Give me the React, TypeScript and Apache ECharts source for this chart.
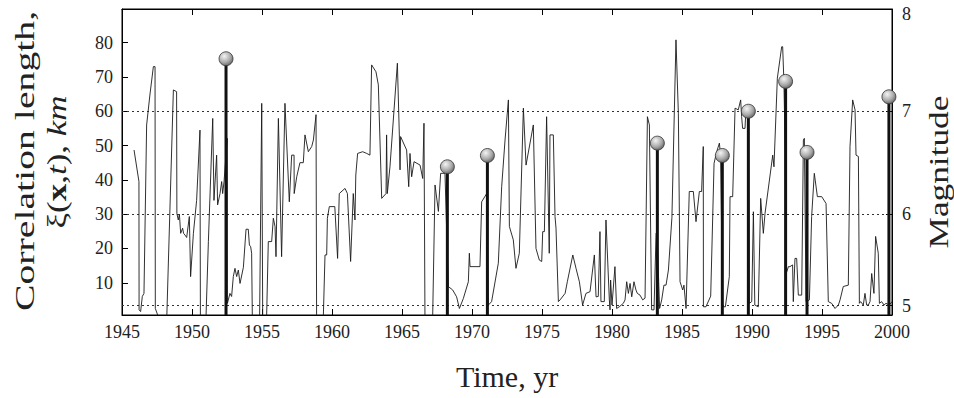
import React, { useEffect, useRef } from "react";
import * as echarts from "echarts";

// Correlation length time series (year, km)
const years: number[] = [
  1945.86, 1946.21, 1946.22, 1946.33, 1946.45, 1946.57, 1946.76, 1947.0, 1947.24, 1947.36, 1947.38, 1947.6,
  1948.2, 1948.67, 1948.9, 1948.92, 1949.02, 1949.1, 1949.19, 1949.33, 1949.4, 1949.5, 1949.62, 1949.81,
  1949.9, 1950.1, 1950.33, 1950.57, 1950.6, 1951.0, 1951.17, 1951.48, 1951.57, 1951.76, 1951.83, 1952.0,
  1952.12, 1952.19, 1952.29, 1952.52, 1952.53, 1952.71, 1952.83, 1952.95, 1953.07, 1953.19, 1953.31, 1953.43,
  1953.67, 1953.86, 1954.02, 1954.1, 1954.19, 1954.26, 1954.31, 1954.83, 1954.98, 1955.05, 1955.33, 1955.45,
  1955.69, 1955.81, 1955.93, 1956.0, 1956.17, 1956.4, 1956.64, 1956.95, 1957.12, 1957.29, 1957.3, 1957.48,
  1957.71, 1957.95, 1958.07, 1958.31, 1958.55, 1958.67, 1958.86, 1958.9, 1959.38, 1959.5, 1959.62, 1959.67,
  1959.81, 1960.2, 1960.4, 1960.52, 1960.93, 1961.1, 1961.33, 1961.52, 1961.64, 1961.7, 1961.83, 1962.19,
  1962.48, 1962.71, 1962.83, 1963.14, 1963.31, 1963.55, 1963.86, 1963.9, 1963.95, 1964.14, 1964.67, 1964.81,
  1964.86, 1964.9, 1965.33, 1965.48, 1965.57, 1965.69, 1965.86, 1966.29, 1966.48, 1966.57, 1966.64, 1967.19,
  1967.36, 1967.6, 1967.76, 1968.07, 1968.31, 1968.62, 1968.9, 1969.1, 1969.38, 1969.74, 1969.81, 1969.86,
  1970.57, 1970.69, 1971.05, 1971.17, 1971.4, 1971.88, 1972.12, 1972.36, 1972.6, 1972.67, 1972.95, 1973.14,
  1973.38, 1973.67, 1973.86, 1974.38, 1974.57, 1974.81, 1974.98, 1975.05, 1975.17, 1975.33, 1975.52, 1975.57,
  1975.81, 1975.93, 1976.0, 1976.17, 1976.29, 1976.65, 1976.81, 1977.2, 1977.43, 1977.67, 1977.9, 1978.14,
  1978.43, 1978.74, 1978.86, 1979.02, 1979.14, 1979.21, 1979.45, 1979.57, 1979.81, 1979.86, 1979.9, 1980.0,
  1980.21, 1980.33, 1980.52, 1980.81, 1980.93, 1981.05, 1981.17, 1981.29, 1981.41, 1981.57, 1981.71, 1981.81,
  1982.0, 1982.19, 1982.36, 1982.53, 1982.67, 1982.83, 1983.0, 1983.15, 1983.22, 1983.4, 1983.55, 1983.71,
  1983.86, 1984.03, 1984.28, 1984.57, 1984.74, 1984.86, 1985.05, 1985.14, 1985.29, 1985.52, 1985.81, 1986.0,
  1986.24, 1986.4, 1986.52, 1986.53, 1986.71, 1987.05, 1987.29, 1987.48, 1987.67, 1987.76, 1987.9, 1988.1,
  1988.38, 1988.43, 1988.62, 1988.79, 1989.02, 1989.19, 1989.26, 1989.33, 1989.5, 1989.57, 1989.74, 1989.81, 1989.98,
  1990.1, 1990.2, 1990.45, 1990.62, 1990.81, 1990.93, 1991.48, 1991.57, 1991.81, 1992.12, 1992.19, 1992.28,
  1992.38, 1992.43, 1992.6, 1992.71, 1992.9, 1992.95, 1993.07, 1993.19, 1993.31, 1993.55, 1993.67, 1993.74,
  1993.86, 1994.1, 1994.26, 1994.45, 1994.67, 1994.98, 1995.29, 1995.45, 1995.69, 1995.93, 1996.17, 1996.29,
  1996.52, 1996.88, 1997.0, 1997.19, 1997.36, 1997.43, 1997.6, 1997.67, 1997.76, 1997.95, 1998.07, 1998.19,
  1998.31, 1998.43, 1998.55, 1998.71, 1998.83, 1999.02, 1999.1, 1999.26, 1999.43, 1999.57, 1999.81, 2000.0,
];
const lengths: number[] = [
  48.7, 39.5, 2.1, 1.6, 6, 6.9, 56, 65, 73, 73, 2.5, 0,
  0, 66.2, 65.7, 30.2, 28.3, 30, 24.4, 25.9, 24.4, 23.9, 23.2, 29.3,
  11.8, 24.4, 34, 54.5, 0, 0, 22, 57.9, 34, 47.2, 32.7, 36,
  39.5, 36, 39.5, 52.1, 4, 6.9, 6, 11.8, 14.2, 11.8, 13.7, 9.8,
  14.5, 25.6, 25.6, 21, 20.5, 18.6, 0, 0, 62.3, 0, 0, 22,
  22, 28.8, 26.4, 17.6, 57.9, 17.6, 62.3, 33.6, 47.2, 47.2, 36, 40.9,
  45, 45, 53.1, 48.2, 49.7, 51.6, 59, 0, 0, 18.1, 18.1, 28.8,
  32.2, 32.2, 17.1, 36, 37.5, 36, 16.2, 36, 28.3, 41.4, 47.7, 48.2,
  47.7, 47.2, 73.5, 71.5, 67.7, 34.6, 36, 53.1, 36, 43.8, 74, 53.1,
  42.9, 52.6, 48.7, 38, 47.7, 40.9, 45.3, 44.3, 40.4, 56.5, 0, 0,
  38.5, 30.8, 41.9, 41.9, 8.9, 7.9, 5.9, 2.5, 5.4, 10.3, 18.6, 14.7,
  14.7, 33.6, 36, 3.5, 4.5, 15.7, 38, 51.6, 63.3, 26.4, 22.5, 14.2,
  18.6, 60.9, 44.3, 56, 20, 16.6, 16.2, 24.9, 24.9, 58.4, 18.6, 53.1,
  53.1, 29.3, 25.9, 4.5, 5, 6.9, 10.3, 18.1, 14.2, 10.3, 3.5, 6.9,
  7.4, 18.1, 5.9, 6, 24.9, 4.5, 4.5, 28.3, 5, 2.1, 10.8, 3.5,
  14.7, 2.5, 3, 4, 5, 10.3, 6.9, 9.8, 5.9, 10.3, 7.9, 6.9,
  6.4, 5, 5.5, 58.4, 56, 2.1, 2.1, 24.4, 24, 2.5, 5, 9.3,
  9.3, 13.7, 29, 80.8, 59.4, 10.3, 7.9, 9.3, 2.5, 36.6, 36.6, 27.8,
  36.6, 36.6, 49.7, 3, 3, 6.1, 44.8, 48.2, 50.7, 47, 3, 3,
  11.8, 35.1, 35.1, 60.9, 60.4, 63.3, 58.4, 55, 55, 60.9, 60, 4, 4.5,
  30.7, 3.5, 3, 34.6, 24.4, 30.2, 47.2, 43.8, 69.6, 78.8, 78.8, 68.6,
  47, 12.5, 14.7, 14.7, 15.2, 4.5, 17.1, 17.1, 6.4, 6.4, 51.6, 52.1,
  4.5, 5, 29.3, 41.9, 35.1, 35.1, 33.1, 4.5, 4, 2.5, 3.5, 5,
  8.9, 9.3, 49.7, 63.3, 60.4, 47.2, 46.8, 4, 4.5, 3.5, 6.9, 3.5,
  3.5, 4.5, 12.7, 6.9, 23.5, 18.6, 4, 4.5, 3.5, 4, 3.5, 4.5,
];

// Large earthquakes (year, magnitude)
const quakeYears: number[] = [1952.43, 1968.24, 1971.1, 1983.24, 1987.88, 1989.74, 1992.4, 1993.93, 1999.78];
const quakeMags: number[] = [7.51, 6.46, 6.57, 6.69, 6.57, 7.0, 7.29, 6.6, 7.14];

const xTicks = { min: 1945, max: 2000, interval: 5 };
const leftTickValues: number[] = [10, 20, 30, 40, 50, 60, 70, 80];
const rightTickValues: number[] = [5.11, 6, 7];
const rightLabelValues: number[] = [5.11, 6, 7, 7.94];
const refLines: number[] = [5.11, 6, 7];

const LEFT_MIN = 0.6;
const LEFT_MAX = 89.8;
// right axis aligned so that M6 <-> 30 km and M7 <-> 60 km
const RIGHT_MIN = 6 + (LEFT_MIN - 30) / 30;
const RIGHT_MAX = 6 + (LEFT_MAX - 30) / 30;

const FONT = "Liberation Serif";

export default function App() {
  const ref = useRef<HTMLDivElement>(null);
  useEffect(() => {
    if (!ref.current) return;
    const chart = echarts.init(ref.current, null, { renderer: "svg" });
    const lineData = years.map((y, i) => [y, lengths[i]]);
    const quakeData = quakeYears.map((y, i) => [y, quakeMags[i]]);
    const labelStyle = { fontFamily: FONT, fontSize: 18, color: "#222" };
    chart.setOption({
      animation: false,
      backgroundColor: "#fff",
      grid: {
        left: 122,
        right: 62,
        top: 9,
        bottom: 83,
        show: true,
        borderColor: "#000",
        borderWidth: 1,
        backgroundColor: "transparent",
      },
      xAxis: [
        {
          type: "value",
          position: "bottom",
          min: xTicks.min,
          max: xTicks.max,
          interval: xTicks.interval,
          axisLine: { show: true, lineStyle: { color: "#000", width: 1 } },
          axisTick: { show: true, inside: true, length: 6, lineStyle: { color: "#000" } },
          axisLabel: { ...labelStyle, margin: 8, formatter: (v: number) => String(v) },
          splitLine: { show: false },
          name: "Time, yr",
          nameLocation: "middle",
          nameGap: 46,
          nameTextStyle: { fontFamily: FONT, fontSize: 30, color: "#222" },
        },
        {
          type: "value",
          position: "top",
          min: xTicks.min,
          max: xTicks.max,
          interval: xTicks.interval,
          axisLine: { show: true, lineStyle: { color: "#000", width: 1 } },
          axisTick: { show: true, inside: true, length: 6, lineStyle: { color: "#000" } },
          axisLabel: { show: false },
          splitLine: { show: false },
        },
      ],
      yAxis: [
        {
          type: "value",
          position: "left",
          min: LEFT_MIN,
          max: LEFT_MAX,
          axisLine: { show: true, lineStyle: { color: "#000", width: 1 } },
          axisTick: { show: true, inside: true, length: 6, lineStyle: { color: "#000" }, customValues: leftTickValues },
          axisLabel: { ...labelStyle, margin: 9, customValues: leftTickValues, formatter: (v: number) => String(Math.round(v)) },
          splitLine: { show: false },
        },
        {
          type: "value",
          position: "right",
          min: RIGHT_MIN,
          max: RIGHT_MAX,
          axisLine: { show: true, lineStyle: { color: "#000", width: 1 } },
          axisTick: { show: true, inside: true, length: 6, lineStyle: { color: "#000" }, customValues: rightTickValues },
          axisLabel: { ...labelStyle, margin: 10, customValues: rightLabelValues, formatter: (v: number) => String(Math.round(v)) },
          splitLine: { show: false },
        },
      ],
      graphic: [
        {
          type: "text",
          x: 24,
          y: 161,
          rotation: Math.PI / 2,
          scaleX: 1.42,
          style: {
            text: "Correlation length,",
            fontFamily: FONT,
            fontSize: 28,
            fill: "#222",
            align: "center",
            verticalAlign: "middle",
            textAlign: "center",
            textVerticalAlign: "middle",
          },
        },
        {
          type: "text",
          x: 57,
          y: 162,
          rotation: Math.PI / 2,
          scaleX: 1.25,
          style: {
            text: "ξ({b|x},{i|t}), {i|km}",
            fontFamily: FONT,
            fontSize: 28,
            fill: "#222",
            align: "center",
            verticalAlign: "middle",
            textAlign: "center",
            textVerticalAlign: "middle",
            rich: {
              b: { fontFamily: FONT, fontSize: 28, fontWeight: "bold", fill: "#222", color: "#222" },
              i: { fontFamily: FONT, fontSize: 28, fontStyle: "italic", fill: "#222", color: "#222" },
            },
          },
        },
        {
          type: "text",
          x: 939,
          y: 172,
          rotation: Math.PI / 2,
          scaleX: 1.26,
          style: {
            text: "Magnitude",
            fontFamily: FONT,
            fontSize: 28,
            fill: "#222",
            align: "center",
            verticalAlign: "middle",
            textAlign: "center",
            textVerticalAlign: "middle",
          },
        },
      ],
      series: [
        {
          type: "line",
          xAxisIndex: 0,
          yAxisIndex: 0,
          data: lineData,
          showSymbol: false,
          symbol: "none",
          clip: true,
          lineStyle: { color: "#1a1a1a", width: 0.9 },
          silent: true,
          z: 2,
        },
        {
          type: "bar",
          xAxisIndex: 0,
          yAxisIndex: 1,
          data: quakeData,
          barWidth: 3,
          clip: true,
          itemStyle: { color: "#111" },
          silent: true,
          z: 3,
          markLine: {
            silent: true,
            symbol: "none",
            label: { show: false },
            lineStyle: { color: "#333", width: 1, type: [2, 3] },
            data: refLines.map((v) => ({ yAxis: v })),
            z: 1,
          },
        },
        {
          type: "scatter",
          xAxisIndex: 0,
          yAxisIndex: 1,
          data: quakeData,
          symbol: "circle",
          symbolSize: 14,
          silent: true,
          z: 4,
          itemStyle: {
            color: {
              type: "radial",
              x: 0.38,
              y: 0.32,
              r: 0.75,
              colorStops: [
                { offset: 0, color: "#f4f4f4" },
                { offset: 0.6, color: "#a8a8a8" },
                { offset: 1, color: "#5a5a5a" },
              ],
            },
            borderColor: "#333",
            borderWidth: 0.8,
            opacity: 1,
          },
        },
      ],
    });
    return () => chart.dispose();
  }, []);
  return <div ref={ref} style={{ position: "absolute", left: 0, top: 0, width: 954, height: 398 }} />;
}
